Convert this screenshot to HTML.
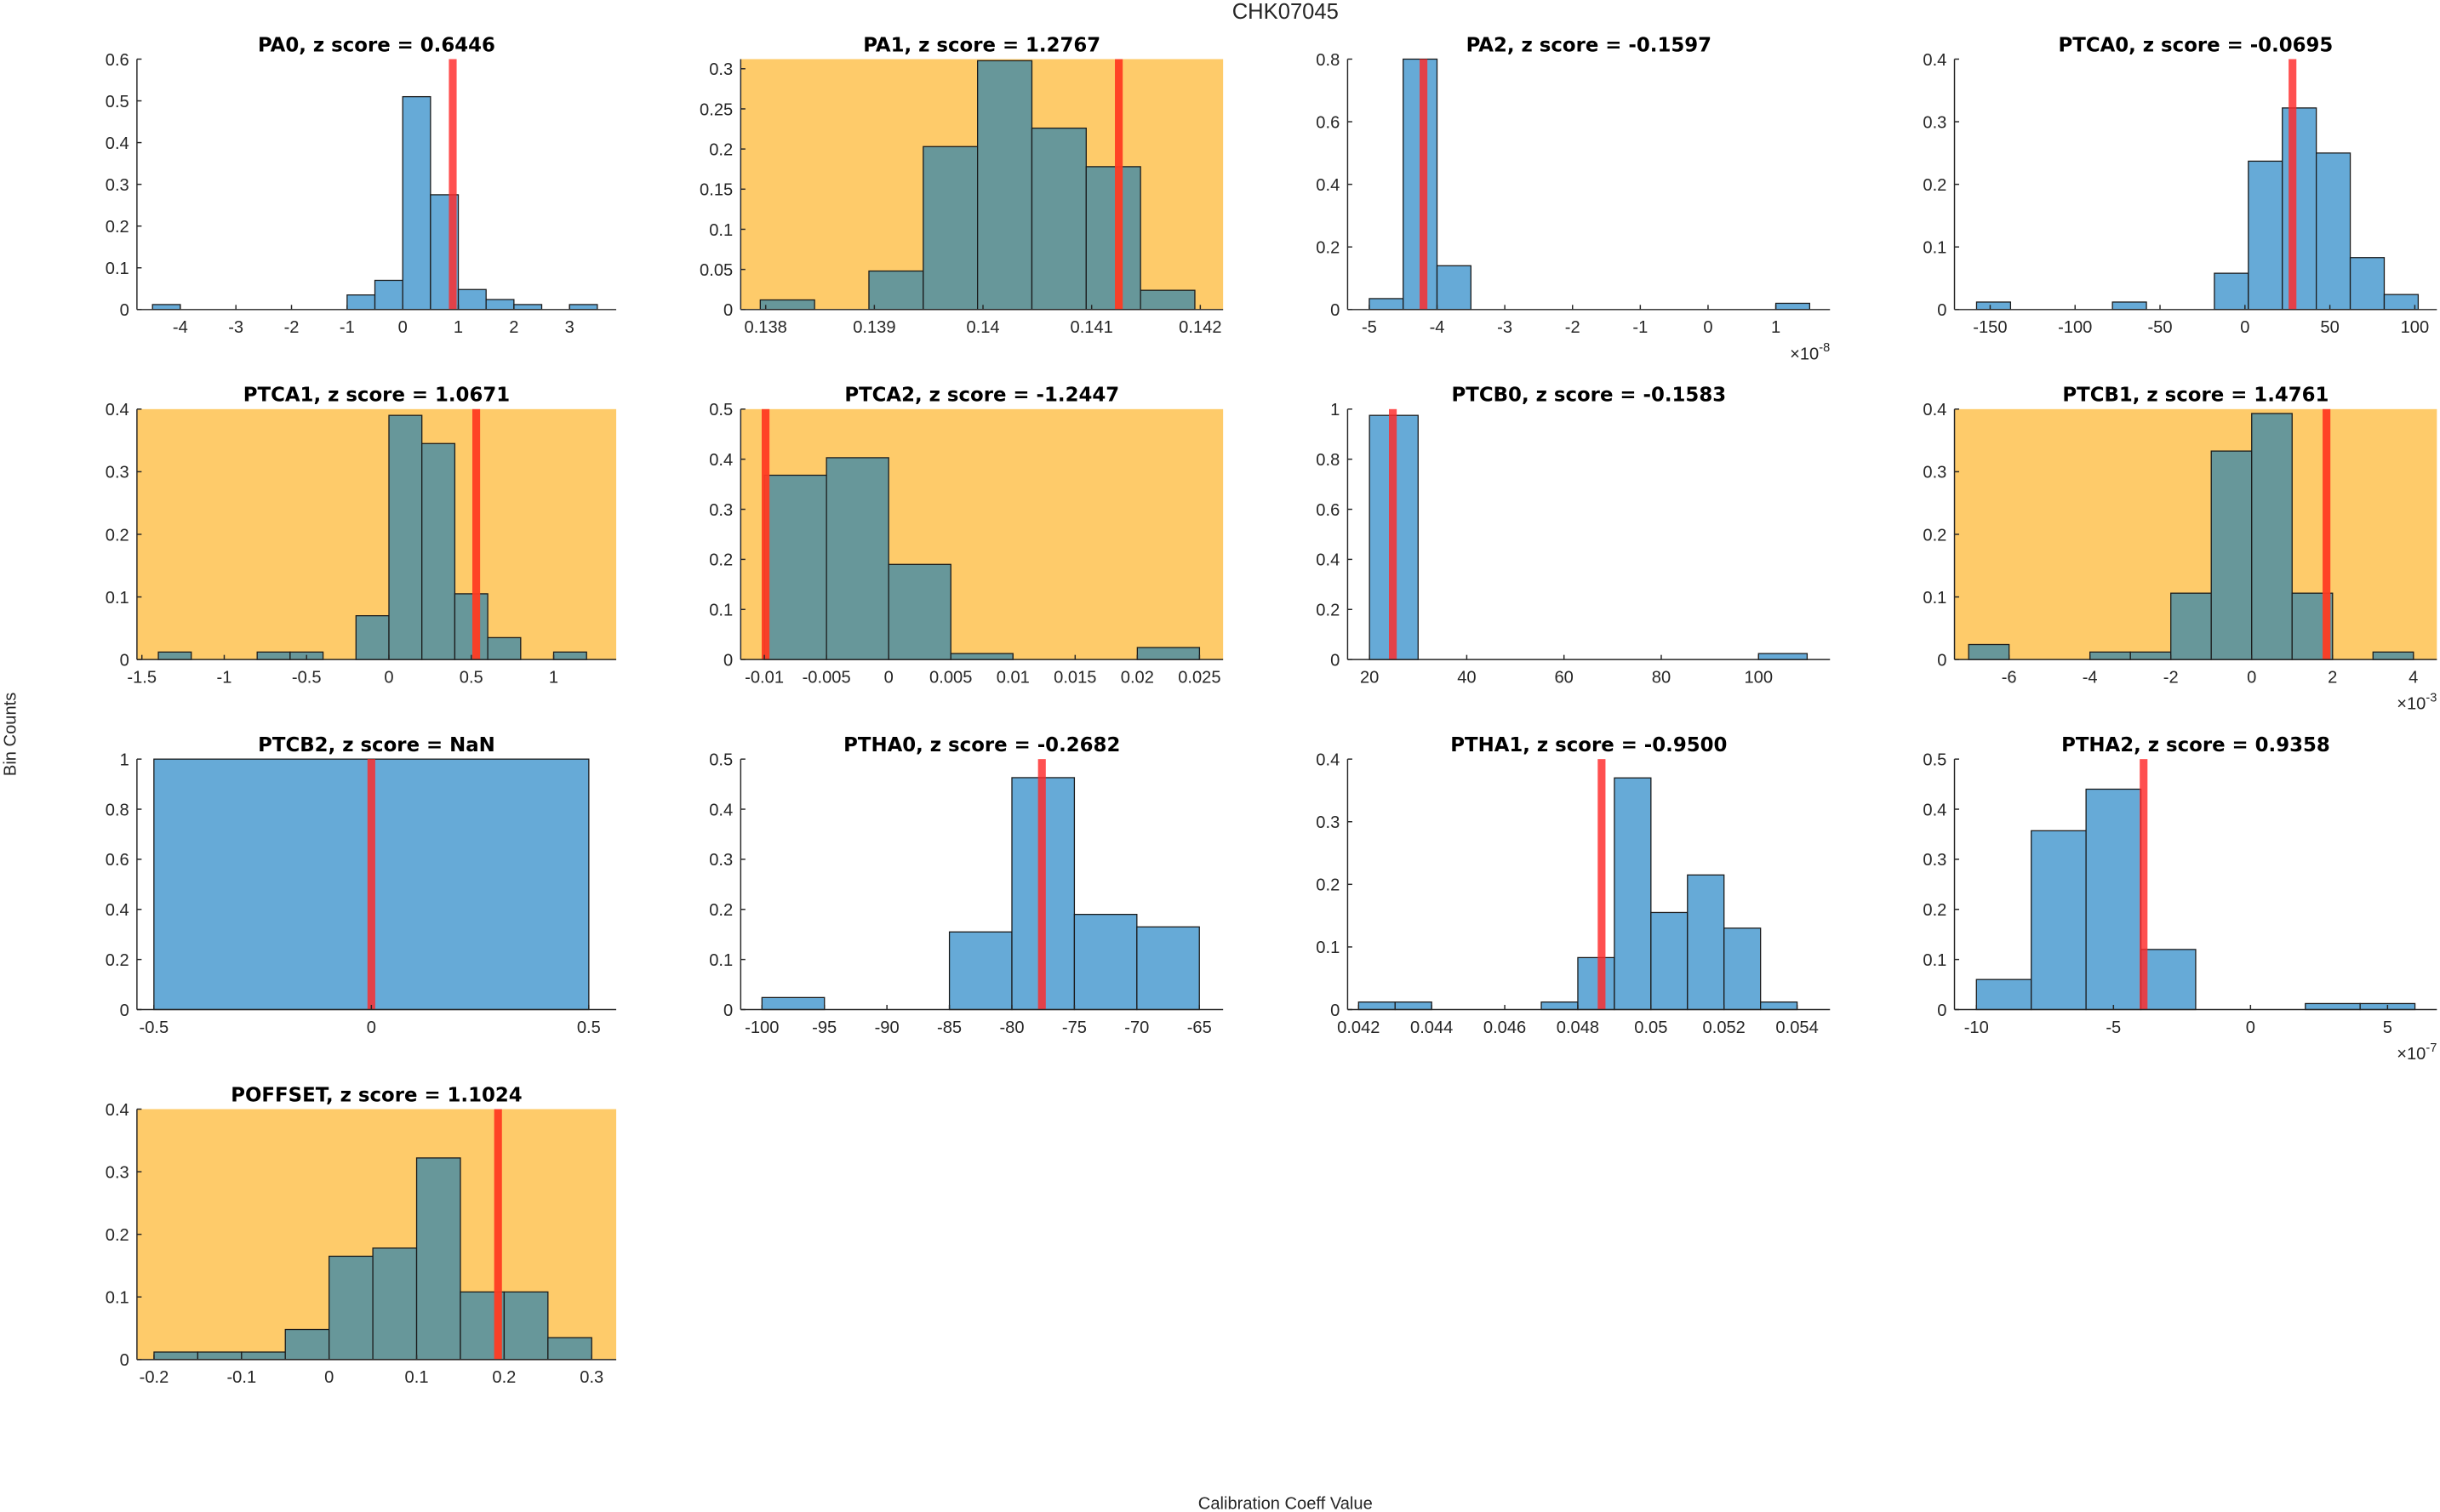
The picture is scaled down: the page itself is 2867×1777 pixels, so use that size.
<!DOCTYPE html>
<html><head><meta charset="utf-8"><style>
html,body{margin:0;padding:0;background:#fff}
svg{display:block}
text{font-family:"Liberation Sans","DejaVu Sans",sans-serif}
.ttl{font-family:"DejaVu Sans","Liberation Sans",sans-serif}
</style></head><body>
<svg id="fig" xmlns="http://www.w3.org/2000/svg" width="2867" height="1777" viewBox="0 0 1568 972" preserveAspectRatio="none">
<rect x="0" y="0" width="1568" height="972" fill="#fff"/>
<text x="826" y="12" font-size="14" fill="#262626" text-anchor="middle">CHK07045</text>
<text x="0" y="0" font-size="11" fill="#262626" text-anchor="middle" transform="translate(10,472) rotate(-90)">Bin Counts</text>
<text x="826" y="970" font-size="11" fill="#262626" text-anchor="middle">Calibration Coeff Value</text>
<g id="panels"></g>
</svg>
<script>
// ---- data ----
const panelNames = ["PA0","PA1","PA2","PTCA0","PTCA1","PTCA2","PTCB0","PTCB1","PTCB2","PTHA0","PTHA1","PTHA2","POFFSET"];
const zScores = ["0.6446","1.2767","-0.1597","-0.0695","1.0671","-1.2447","-0.1583","1.4761","NaN","-0.2682","-0.9500","0.9358","1.1024"];
const flagged = [false,true,false,false,true,true,false,true,false,false,false,false,true];
const binWidths = [0.5,0.0005,0.5,20,0.2,0.005,10,1,1,5,0.001,2,0.05];
const binStarts = [
 [-4.5,-1,-0.5,0,0.5,1,1.5,2,3],
 [0.13795,0.13895,0.13945,0.13995,0.14045,0.14095,0.14145],
 [-5,-4.5,-4,1],
 [-158,-78,-18,2,22,42,62,82],
 [-1.4,-0.8,-0.6,-0.2,0,0.2,0.4,0.6,1.0],
 [-0.01,-0.005,0,0.005,0.02],
 [20,100],
 [-7,-4,-3,-2,-1,0,1,3],
 [-0.5],
 [-100,-85,-80,-75,-70],
 [0.042,0.043,0.047,0.048,0.049,0.050,0.051,0.052,0.053],
 [-10,-8,-6,-4,2,4],
 [-0.2,-0.15,-0.1,-0.05,0,0.05,0.1,0.15,0.2,0.25]
];
const binCounts = [
 [0.012,0.035,0.07,0.51,0.275,0.048,0.024,0.012,0.012],
 [0.012,0.048,0.203,0.31,0.226,0.178,0.024],
 [0.035,0.8,0.14,0.02],
 [0.012,0.012,0.058,0.237,0.322,0.25,0.083,0.024],
 [0.012,0.012,0.012,0.07,0.39,0.345,0.105,0.035,0.012],
 [0.368,0.403,0.19,0.012,0.024],
 [0.975,0.024],
 [0.024,0.012,0.012,0.106,0.333,0.393,0.106,0.012],
 [1],
 [0.024,0.155,0.463,0.19,0.165],
 [0.012,0.012,0.012,0.083,0.37,0.155,0.215,0.13,0.012],
 [0.06,0.357,0.44,0.12,0.012,0.012],
 [0.012,0.012,0.012,0.048,0.165,0.178,0.322,0.108,0.108,0.035]
];
const markerValues = [0.9,0.14125,-4.2,28,0.53,-0.0099,24.8,1.85,0,-77.6,0.04865,-3.9,0.193];
const xLimits = [[-4.78,3.84],[0.13777,0.14221],[-5.32,1.80],[-171,113],[-1.53,1.38],[-0.0119,0.0269],[15.5,114.7],[-7.35,4.58],[-0.539,0.563],[-101.7,-63.1],[0.0417,0.0549],[-10.8,6.8],[-0.2195,0.328]];
const yMax = [0.6,0.312,0.8,0.4,0.4,0.5,1,0.4,1,0.5,0.4,0.5,0.4];
const xTicks = [
 [-4,-3,-2,-1,0,1,2,3],
 [0.138,0.139,0.14,0.141,0.142],
 [-5,-4,-3,-2,-1,0,1],
 [-150,-100,-50,0,50,100],
 [-1.5,-1,-0.5,0,0.5,1],
 [-0.01,-0.005,0,0.005,0.01,0.015,0.02,0.025],
 [20,40,60,80,100],
 [-6,-4,-2,0,2,4],
 [-0.5,0,0.5],
 [-100,-95,-90,-85,-80,-75,-70,-65],
 [0.042,0.044,0.046,0.048,0.05,0.052,0.054],
 [-10,-5,0,5],
 [-0.2,-0.1,0,0.1,0.2,0.3]
];
const yTickStep = [0.1,0.05,0.2,0.1,0.1,0.1,0.2,0.1,0.2,0.1,0.1,0.1,0.1];
const exponents = ["","","-8","","","","","-3","","","","-7",""];

// ---- layout ----
const colX = [[88,396],[476,786],[866,1176],[1256,1566]];
const rowY = [38,263,488,713];
const PH = 161;
const NS = "http://www.w3.org/2000/svg";
const root = document.getElementById('panels');
function el(tag, attrs, parent){
  const e = document.createElementNS(NS, tag);
  for (const k in attrs) e.setAttribute(k, attrs[k]);
  parent.appendChild(e);
  return e;
}
function fmt(v){
  return (Math.round(v*1e6)/1e6).toString();
}
panelNames.forEach((name, i) => {
  const [x0,x1] = colX[i%4];
  const y0 = rowY[Math.floor(i/4)];
  const y1 = y0 + PH;
  const [lo,hi] = xLimits[i];
  const sx = v => x0 + (v-lo)/(hi-lo)*(x1-x0);
  const sy = v => y1 - v/yMax[i]*PH;
  const g = el('g', {}, root);
  
  
  const orange = flagged[i];
  if (orange) {
    const bg = el('rect', {x:x0,y:y0,width:x1-x0,height:PH,fill:'#fecb6a'}, g);
    
    
  }
  binStarts[i].forEach((b, j) => {
    const xa = sx(b), xb = sx(b+binWidths[i]);
    const yt = sy(binCounts[i][j]);
    const r = el('rect', {x:xa,y:yt,width:xb-xa,height:y1-yt,fill:orange?'#67979a':'#66aad7',stroke:'#1a1a1a','stroke-width':0.7}, g);
    
    
  });
  const mx = sx(markerValues[i]);
  const m = el('rect', {x:mx-2.5,y:y0,width:5,height:PH,fill:orange?'#ff3b22':'#ff2a2a','fill-opacity':orange?0.95:0.82}, g);
  
  
  el('line', {x1:x0,y1:y0,x2:x0,y2:y1,stroke:'#262626','stroke-width':0.8}, g);
  el('line', {x1:x0,y1:y1,x2:x1,y2:y1,stroke:'#262626','stroke-width':0.8}, g);
  const st = yTickStep[i];
  for (let k=0; k*st <= yMax[i]+1e-9; k++){
    const v = k*st, yy = sy(v);
    el('line', {x1:x0,y1:yy,x2:x0+3,y2:yy,stroke:'#262626','stroke-width':0.8}, g);
    const t = el('text', {x:x0-5,y:yy+4,'font-size':11,fill:'#262626','text-anchor':'end'}, g);
    t.textContent = fmt(v);
    
    
  }
  xTicks[i].forEach(v => {
    const xx = sx(v);
    el('line', {x1:xx,y1:y1,x2:xx,y2:y1-3,stroke:'#262626','stroke-width':0.8}, g);
    const t = el('text', {x:xx,y:y1+15,'font-size':11,fill:'#262626','text-anchor':'middle'}, g);
    t.textContent = fmt(v);
    
    
  });
  if (exponents[i]) {
    const t = el('text', {x:x1,y:y1+32,'font-size':11,fill:'#262626','text-anchor':'end'}, g);
    t.textContent = '\u00d710';
    const ts = el('tspan', {dy:-5,'font-size':8}, t);
    ts.textContent = exponents[i];
    
    
  }
  const title = el('text', {x:(x0+x1)/2,y:y0-5,'font-size':12.5,'font-weight':'bold',fill:'#000','text-anchor':'middle','class':'ttl'}, g);
  title.textContent = name + ', z score = ' + zScores[i];
  
  
});
</script>
</body></html>
